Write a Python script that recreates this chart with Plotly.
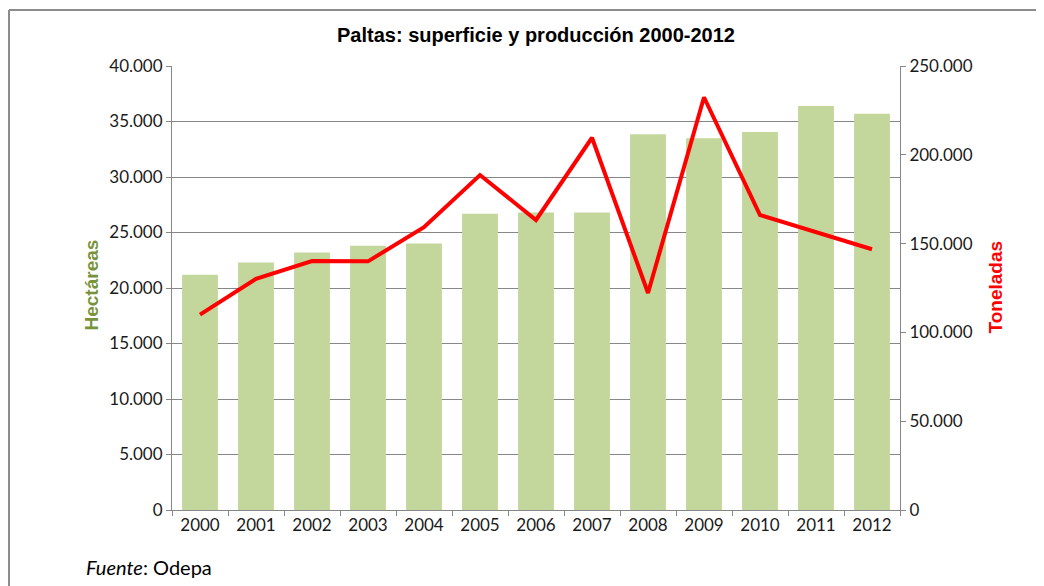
import plotly.graph_objects as go

years = ["2000", "2001", "2002", "2003", "2004", "2005", "2006", "2007", "2008", "2009", "2010", "2011", "2012"]
hectareas = [21200, 22300, 23200, 23800, 24000, 26700, 26800, 26800, 33850, 33500, 34050, 36400, 35700]
toneladas = [110000, 130200, 140200, 140000, 159200, 188600, 163300, 209600, 122200, 232400, 166100, 156500, 146800]

W, H = 1044, 586
OFF = 8  # default page body margin
L, R, T, B = 172, 900, 66, 510  # target page pixel positions of plot area
pw, ph = R - L, B - T

def px(x):
    return (x - L) / pw

def py(y):
    return (B - y) / ph

tickfont = dict(family="Lato, sans-serif", size=17, color="#1a1a1a")

fig = go.Figure()
fig.add_trace(go.Bar(x=years, y=hectareas, marker=dict(color="#C3D69B", line=dict(width=0)),
                     name="Hectáreas", yaxis="y"))
fig.add_trace(go.Scatter(x=years, y=toneladas, mode="lines", line=dict(color="#FF0000", width=4),
                         name="Toneladas", yaxis="y2"))

fig.update_layout(
    width=W, height=H,
    margin=dict(l=L - OFF, r=W - (R - OFF), t=T - OFF, b=H - (B - OFF), pad=0),
    paper_bgcolor="white", plot_bgcolor="white",
    showlegend=False,
    bargap=0.36,
    separators=",.",
    title=dict(text="<b>Paltas: superficie y producción 2000-2012</b>",
               font=dict(family="Liberation Sans, Arial, sans-serif", size=20, color="#000000"),
               x=((L + R) / 2 - OFF) / W, xanchor="center", y=1 - (35 - OFF) / H, yanchor="middle"),
    xaxis=dict(type="category", showline=True, linecolor="#868686", linewidth=1,
               ticks="outside", tickson="boundaries", ticklen=5, tickcolor="#868686",
               tickfont=tickfont, showgrid=False),
    yaxis=dict(range=[0, 40000], dtick=5000, tickformat=",d", showgrid=True, gridcolor="#868686",
               gridwidth=1, showline=True, linecolor="#868686", ticks="outside", ticklen=5,
               tickcolor="#868686", tickfont=tickfont, zeroline=False),
    yaxis2=dict(range=[0, 250000], dtick=50000, tickformat=",d", overlaying="y", side="right",
                showgrid=False, showline=True, linecolor="#868686", ticks="outside", ticklen=5,
                tickcolor="#868686", tickfont=tickfont, zeroline=False),
)

fig.add_annotation(text="<b>Hectáreas</b>", xref="paper", yref="paper", x=px(78), y=py(285),
                   textangle=-90, showarrow=False,
                   font=dict(family="Liberation Sans, Arial, sans-serif", size=19, color="#77933C"))
fig.add_annotation(text="<b>Toneladas</b>", xref="paper", yref="paper", x=px(1007), y=py(287),
                   textangle=-90, showarrow=False,
                   font=dict(family="Liberation Sans, Arial, sans-serif", size=19, color="#FF0000"))
fig.add_annotation(text="<i>Fuente</i>: Odepa", xref="paper", yref="paper", x=px(84), y=py(567),
                   xanchor="left", yanchor="middle", showarrow=False,
                   font=dict(family="Lato, sans-serif", size=20, color="#000000"))

# outer chart frame (left and top edges visible)
fig.add_shape(type="line", xref="paper", yref="paper", x0=px(OFF + 1), y0=py(10), x1=px(OFF + 1), y1=py(H + 20),
              line=dict(color="#8C8C8C", width=2), layer="above")
fig.add_shape(type="line", xref="paper", yref="paper", x0=px(OFF + 1), y0=py(10), x1=px(W + 20), y1=py(10),
              line=dict(color="#8C8C8C", width=2), layer="above")

fig.write_html("out.html")
